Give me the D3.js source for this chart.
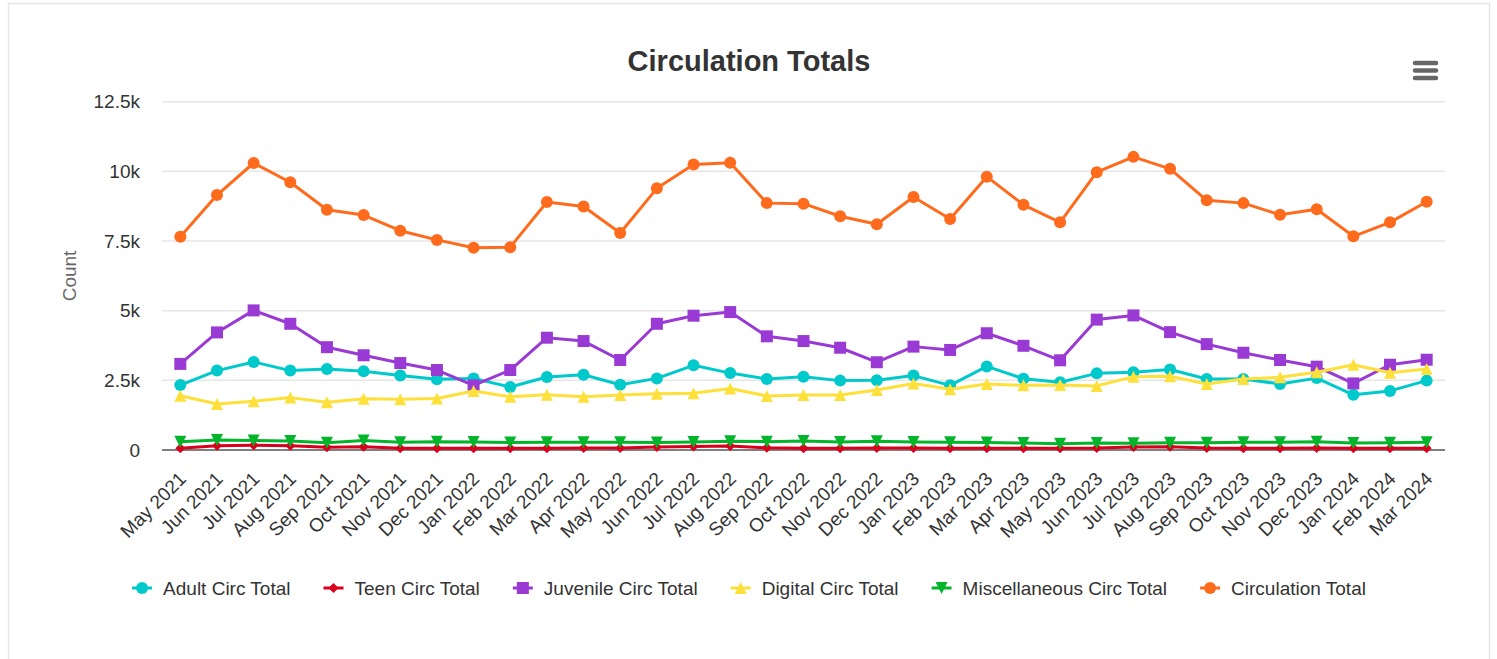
<!DOCTYPE html>
<html>
<head>
<meta charset="utf-8">
<script src="https://cdn.jsdelivr.net/npm/d3@7"></script>
<style>
  body { margin: 0; background: #fff; }
  svg text { font-family: "Liberation Sans", Arial, Helvetica, sans-serif; }
</style>
</head>
<body>
<div id="container"></div>
<script>
// months on the x axis
var months = ["May 2021","Jun 2021","Jul 2021","Aug 2021","Sep 2021","Oct 2021","Nov 2021","Dec 2021",
  "Jan 2022","Feb 2022","Mar 2022","Apr 2022","May 2022","Jun 2022","Jul 2022","Aug 2022","Sep 2022",
  "Oct 2022","Nov 2022","Dec 2022","Jan 2023","Feb 2023","Mar 2023","Apr 2023","May 2023","Jun 2023",
  "Jul 2023","Aug 2023","Sep 2023","Oct 2023","Nov 2023","Dec 2023","Jan 2024","Feb 2024","Mar 2024"];

var adult = [2330,2850,3160,2850,2910,2830,2670,2540,2570,2260,2620,2700,2340,2570,3040,2760,2550,2630,
  2490,2500,2670,2320,3000,2560,2430,2750,2790,2890,2550,2550,2370,2580,1980,2120,2490];
var teen = [60,150,170,150,100,120,60,60,60,60,60,70,70,110,130,140,80,60,60,70,70,60,60,60,
  60,70,110,120,70,60,60,70,60,60,60];
var juvenile = [3090,4220,5010,4530,3690,3400,3120,2870,2320,2870,4030,3910,3230,4530,4820,4950,4080,3910,
  3670,3150,3710,3590,4190,3740,3220,4680,4830,4230,3800,3490,3230,2990,2390,3060,3240];
var digital = [1950,1650,1750,1880,1710,1840,1820,1850,2120,1910,1980,1910,1970,2020,2040,2210,1940,1970,
  1970,2150,2390,2180,2370,2320,2330,2300,2630,2650,2370,2550,2610,2790,3060,2770,2910];
var misc = [300,360,340,320,260,340,280,300,290,270,280,280,280,270,290,310,300,320,290,310,290,280,270,
  250,220,250,240,260,260,280,280,300,250,260,280];
var circTotal = [7650,9150,10300,9610,8620,8430,7870,7540,7260,7280,8900,8740,7790,9390,10250,10310,8860,
  8840,8390,8100,9080,8290,9810,8800,8170,9970,10520,10090,8960,8860,8440,8640,7670,8170,8910];

var yTicks = [0, 2500, 5000, 7500, 10000, 12500];
var yTickLabels = ["0", "2.5k", "5k", "7.5k", "10k", "12.5k"];

var seriesNames = ["Adult Circ Total","Teen Circ Total","Juvenile Circ Total","Digital Circ Total",
  "Miscellaneous Circ Total","Circulation Total"];

var series = [
  { name: seriesNames[0], values: adult,     color: "#00c9cc", marker: "circle" },
  { name: seriesNames[1], values: teen,      color: "#d8001c", marker: "diamond" },
  { name: seriesNames[2], values: juvenile,  color: "#9a3ad4", marker: "square" },
  { name: seriesNames[3], values: digital,   color: "#fde03a", marker: "triangle" },
  { name: seriesNames[4], values: misc,      color: "#04b52b", marker: "triangle-down" },
  { name: seriesNames[5], values: circTotal, color: "#ff6b1c", marker: "circle" }
];

var width = 1497, height = 659;
var plotLeft = 162, plotRight = 1445, plotTop = 101.7, plotBottom = 450;
var font = "Liberation Sans, Arial, sans-serif";

var svg = d3.select("#container").append("svg")
  .attr("width", width).attr("height", height);

// outer frame of the chart box
svg.append("rect")
  .attr("x", 8.5).attr("y", 3.5).attr("width", 1481).attr("height", 700)
  .attr("fill", "#fff").attr("stroke", "#e6e6e6").attr("stroke-width", 1.5);

var x = d3.scaleBand().domain(months).range([plotLeft, plotRight]);
var y = d3.scaleLinear().domain([0, 12500]).range([plotBottom, plotTop]);
var cx = function (m) { return x(m) + x.bandwidth() / 2; };

// grid
svg.append("g").selectAll("line")
  .data(yTicks.slice(1))
  .enter().append("line")
  .attr("x1", plotLeft).attr("x2", plotRight)
  .attr("y1", function (d) { return y(d); }).attr("y2", function (d) { return y(d); })
  .attr("stroke", "#e6e6e6").attr("stroke-width", 1.5);

// y labels
var yAxis = d3.axisLeft(y).tickValues(yTicks)
  .tickFormat(function (d, i) { return yTickLabels[i]; })
  .tickSize(0).tickPadding(22);
var gy = svg.append("g").attr("transform", "translate(" + plotLeft + ",0)").call(yAxis);
gy.select(".domain").remove();
gy.selectAll("text").attr("font-size", 19).attr("fill", "#333").attr("font-family", font);

svg.append("text")
  .attr("transform", "translate(76,276) rotate(-90)")
  .attr("text-anchor", "middle")
  .attr("font-size", 19).attr("fill", "#666")
  .text("Count");

// x axis line and labels
var xAxis = d3.axisBottom(x).tickSize(0).tickPadding(0);
var gx = svg.append("g").attr("transform", "translate(0," + plotBottom + ")").call(xAxis);
gx.select(".domain").attr("stroke", "#555").attr("stroke-width", 1.5)
  .attr("d", "M" + plotLeft + ",0H" + plotRight);
gx.selectAll(".tick text")
  .attr("font-size", 19).attr("fill", "#333").attr("font-family", font)
  .attr("text-anchor", "end")
  .attr("dy", null).attr("y", 0)
  .attr("transform", "translate(7,30) rotate(-45)");

// line series
var line = d3.line()
  .x(function (d, i) { return cx(months[i]); })
  .y(function (d) { return y(d); });

function markerPath(type, r) {
  if (type === "circle") return d3.symbol(d3.symbolCircle, Math.PI * r * r)();
  if (type === "square") return "M" + (-r) + "," + (-r) + "H" + r + "V" + r + "H" + (-r) + "Z";
  if (type === "diamond") return "M0," + (-r) + "L" + r + ",0L0," + r + "L" + (-r) + ",0Z";
  if (type === "triangle") return "M0," + (-r) + "L" + r + "," + r + "H" + (-r) + "Z";
  return "M" + (-r) + "," + (-r) + "H" + r + "L0," + r + "Z";
}
var markerSize = { circle: 6, square: 6, diamond: 5, triangle: 6, "triangle-down": 6 };

series.forEach(function (s) {
  var g = svg.append("g");
  g.append("path")
    .attr("d", line(s.values))
    .attr("fill", "none")
    .attr("stroke", s.color)
    .attr("stroke-width", 3)
    .attr("stroke-linejoin", "round")
    .attr("stroke-linecap", "round");
  g.selectAll("path.pt")
    .data(s.values)
    .enter().append("path")
    .attr("class", "pt")
    .attr("d", markerPath(s.marker, markerSize[s.marker]))
    .attr("transform", function (d, i) { return "translate(" + cx(months[i]) + "," + y(d) + ")"; })
    .attr("fill", s.color);
});

// title
svg.append("text")
  .attr("x", 749).attr("y", 71)
  .attr("text-anchor", "middle")
  .attr("font-size", 29).attr("font-weight", "bold").attr("fill", "#333")
  .text("Circulation Totals");

// menu icon
svg.append("g").selectAll("line")
  .data([63, 70.5, 78])
  .enter().append("line")
  .attr("x1", 1415).attr("x2", 1436)
  .attr("y1", function (d) { return d; }).attr("y2", function (d) { return d; })
  .attr("stroke", "#666").attr("stroke-width", 4.5).attr("stroke-linecap", "round");

// legend
var legend = svg.append("g");
var items = legend.selectAll("g").data(series).enter().append("g");
items.append("line")
  .attr("x1", 0).attr("x2", 20).attr("y1", 0).attr("y2", 0)
  .attr("stroke", function (d) { return d.color; }).attr("stroke-width", 3);
items.append("path")
  .attr("d", function (d) { return markerPath(d.marker, markerSize[d.marker]); })
  .attr("transform", "translate(10,0)")
  .attr("fill", function (d) { return d.color; });
items.append("text")
  .attr("x", 31).attr("y", 7)
  .attr("font-size", 19).attr("fill", "#333")
  .text(function (d) { return d.name; });

var gap = 33, pos = 0, offsets = [];
items.each(function () {
  offsets.push(pos);
  var w = d3.select(this).select("text").node().getComputedTextLength();
  pos += 31 + w + gap;
});
var total = pos - gap;
var start = 749 - total / 2;
items.attr("transform", function (d, i) { return "translate(" + (start + offsets[i]) + ",588)"; });
</script>
</body>
</html>
